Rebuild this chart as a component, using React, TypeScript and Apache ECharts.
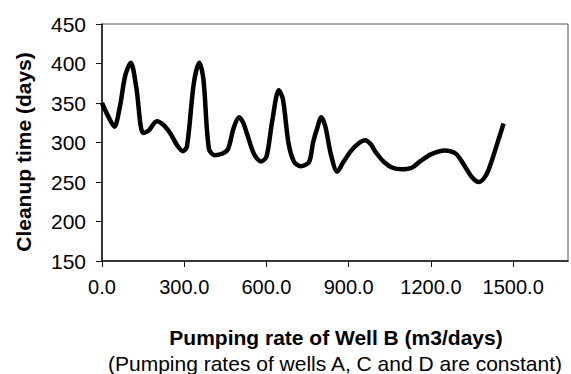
import React, { useEffect, useRef } from "react";
import * as echarts from "echarts";

const pumpingRate = [
  0, 20, 45, 65, 85, 105, 125, 150, 170, 200, 225, 250, 275, 295, 310, 335, 355, 370, 390, 412,
  440, 460, 480, 500, 515, 530, 555, 580, 600, 620, 645, 660, 680, 700, 725, 755, 770, 785, 800,
  815, 835, 858, 880, 910, 940, 960, 980, 1000, 1030, 1060, 1092, 1130, 1160, 1200, 1250, 1290,
  1320, 1350, 1375, 1400, 1420, 1445, 1465,
];
const cleanupTime = [
  350, 335, 320, 345, 385, 401, 370, 312, 315, 327, 322, 311, 296, 289, 295, 375, 401, 380, 292, 284,
  286, 292, 318, 332, 325, 310, 285, 276, 282, 325, 366, 355, 300, 276, 270, 275, 300, 318, 332,
  320, 285, 263, 275, 290, 300, 303, 298, 287, 275, 268, 266, 268, 276, 285, 290, 286,
  272, 256, 250, 258, 275, 302, 324,
];
const xTicks = [0, 300, 600, 900, 1200, 1500];
const xTitle = "Pumping rate of Well B (m3/days)";
const xSubtitle = "(Pumping rates of wells A, C and D are constant)";
const yTitle = "Cleanup time (days)";

const FONT = "'Liberation Sans', Arial, sans-serif";

export default function App() {
  const ref = useRef<HTMLDivElement>(null);
  useEffect(() => {
    if (!ref.current) return;
    const chart = echarts.init(ref.current, undefined, { renderer: "svg" });
    chart.setOption({
      animation: false,
      backgroundColor: "#ffffff",
      grid: {
        left: 102,
        top: 24,
        right: 3,
        bottom: 113,
        show: true,
        borderColor: "#555",
        borderWidth: 1,
      },
      xAxis: {
        type: "value",
        min: 0,
        max: 1700,
        interval: 300,
        axisLine: { show: true, lineStyle: { color: "#111", width: 1.5 } },
        axisTick: { show: true, length: 6, customValues: xTicks, lineStyle: { color: "#111" } },
        axisLabel: {
          customValues: xTicks,
          formatter: (v: number) => v.toFixed(1),
          color: "#000",
          fontFamily: FONT,
          fontSize: 20,
          margin: 16,
        },
        splitLine: { show: false },
      },
      yAxis: {
        type: "value",
        min: 150,
        max: 450,
        interval: 50,
        axisLine: { show: true, lineStyle: { color: "#111", width: 1.5 } },
        axisTick: { show: true, length: 6, lineStyle: { color: "#111" } },
        axisLabel: {
          color: "#000",
          fontFamily: FONT,
          fontSize: 21,
          margin: 16,
          padding: [0, 0, 6, 0],
        },
        splitLine: { show: false },
      },
      series: [
        {
          type: "line",
          data: pumpingRate.map((x, i) => [x, cleanupTime[i]]),
          smooth: 0.3,
          showSymbol: false,
          lineStyle: { color: "#000", width: 4.5 },
        },
      ],
      graphic: [
        {
          type: "text",
          x: 336,
          y: 337,
          style: {
            text: xTitle,
            fontFamily: FONT,
            fontSize: 21,
            fontWeight: "bold",
            fill: "#000",
            textAlign: "center",
            textVerticalAlign: "middle",
          },
        },
        {
          type: "text",
          x: 335,
          y: 363,
          style: {
            text: xSubtitle,
            fontFamily: FONT,
            fontSize: 21,
            fill: "#000",
            textAlign: "center",
            textVerticalAlign: "middle",
          },
        },
        {
          type: "text",
          x: 23,
          y: 152,
          rotation: Math.PI / 2,
          style: {
            text: yTitle,
            fontFamily: FONT,
            fontSize: 21,
            fontWeight: "bold",
            fill: "#000",
            textAlign: "center",
            textVerticalAlign: "middle",
          },
        },
      ],
    });
    return () => chart.dispose();
  }, []);
  return (
    <div
      ref={ref}
      style={{ position: "fixed", left: 0, top: 0, width: 571, height: 374, background: "#fff" }}
    />
  );
}
